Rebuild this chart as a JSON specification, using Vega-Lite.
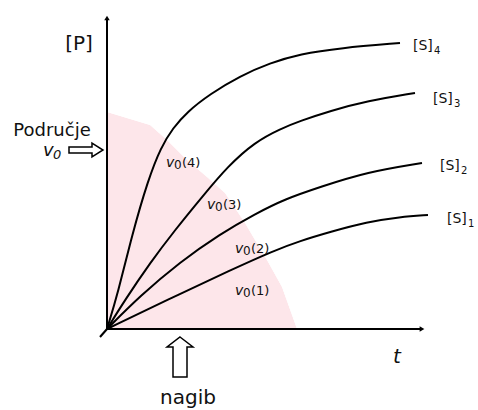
{
  "$schema": "https://vega.github.io/schema/vega-lite/v6.json",
  "width": 478,
  "height": 410,
  "padding": 0,
  "autosize": {"type": "fit", "contains": "padding"},
  "background": "white",
  "config": {"view": {"stroke": null}, "text": {"font": "DejaVu Sans", "color": "#111"}},
  "datasets": {
    "pink": [
      {"t": 0, "P": 217}, {"t": 43, "P": 204}, {"t": 60, "P": 189}, {"t": 80, "P": 169},
      {"t": 100, "P": 152}, {"t": 118, "P": 136}, {"t": 138, "P": 106}, {"t": 148, "P": 89},
      {"t": 160, "P": 69}, {"t": 175, "P": 42}, {"t": 190, "P": 0}
    ],
    "vgrid": [
      {"t": 1.6}, {"t": 10.7}, {"t": 19.7}, {"t": 28.8}, {"t": 37.9}, {"t": 47}, {"t": 56},
      {"t": 65.1}, {"t": 74.2}, {"t": 83.2}, {"t": 92.3}, {"t": 101.4}, {"t": 110.4}, {"t": 119.5},
      {"t": 128.6}, {"t": 137.7}, {"t": 146.7}, {"t": 155.8}, {"t": 164.9}, {"t": 173.9}, {"t": 183}
    ],
    "hgrid": [
      {"P": 6.3}, {"P": 15.4}, {"P": 24.5}, {"P": 33.7}, {"P": 42.8}, {"P": 51.9}, {"P": 61},
      {"P": 70.1}, {"P": 79.3}, {"P": 88.4}, {"P": 97.5}, {"P": 106.6}, {"P": 115.7}, {"P": 124.9},
      {"P": 134}, {"P": 143.1}, {"P": 152.2}, {"P": 161.3}, {"P": 170.5}, {"P": 179.6}, {"P": 188.7},
      {"P": 197.8}, {"P": 206.9}
    ],
    "axes": [
      {"name": "P", "t": 0, "P": 0, "t2": 0, "P2": 311},
      {"name": "t", "t": 0, "P": 0, "t2": 314, "P2": 0}
    ],
    "heads": [
      {"dir": "up", "t": 0, "P": 311},
      {"dir": "right", "t": 315, "P": 0}
    ],
    "curves": [
      {"s": "S4", "t": 0, "P": 0}, {"s": "S4", "t": 11, "P": 36}, {"s": "S4", "t": 25, "P": 94},
      {"s": "S4", "t": 41, "P": 149}, {"s": "S4", "t": 54, "P": 182}, {"s": "S4", "t": 66, "P": 201},
      {"s": "S4", "t": 80, "P": 217}, {"s": "S4", "t": 103, "P": 235}, {"s": "S4", "t": 133, "P": 253},
      {"s": "S4", "t": 163, "P": 266}, {"s": "S4", "t": 193, "P": 275}, {"s": "S4", "t": 233, "P": 281},
      {"s": "S4", "t": 293, "P": 286},
      {"s": "S3", "t": 0, "P": 0}, {"s": "S3", "t": 18, "P": 29}, {"s": "S3", "t": 43, "P": 66},
      {"s": "S3", "t": 68, "P": 99}, {"s": "S3", "t": 95, "P": 132}, {"s": "S3", "t": 121, "P": 163},
      {"s": "S3", "t": 148, "P": 187}, {"s": "S3", "t": 173, "P": 200}, {"s": "S3", "t": 193, "P": 208},
      {"s": "S3", "t": 223, "P": 218}, {"s": "S3", "t": 260, "P": 228}, {"s": "S3", "t": 308, "P": 236},
      {"s": "S2", "t": 0, "P": 0}, {"s": "S2", "t": 33, "P": 33}, {"s": "S2", "t": 73, "P": 67},
      {"s": "S2", "t": 113, "P": 95}, {"s": "S2", "t": 148, "P": 115}, {"s": "S2", "t": 178, "P": 130},
      {"s": "S2", "t": 213, "P": 142}, {"s": "S2", "t": 260, "P": 157}, {"s": "S2", "t": 315, "P": 166},
      {"s": "S1", "t": 0, "P": 0}, {"s": "S1", "t": 60, "P": 29}, {"s": "S1", "t": 126, "P": 60},
      {"s": "S1", "t": 166, "P": 78}, {"s": "S1", "t": 193, "P": 88}, {"s": "S1", "t": 223, "P": 97},
      {"s": "S1", "t": 260, "P": 107}, {"s": "S1", "t": 293, "P": 112}, {"s": "S1", "t": 321, "P": 114},
      {"s": "tail", "t": -7, "P": -8}, {"s": "tail", "t": 0, "P": 0}
    ],
    "arrows": [
      {"a": "left", "i": 0, "t": -38, "P": 182}, {"a": "left", "i": 1, "t": -15, "P": 182},
      {"a": "left", "i": 2, "t": -15, "P": 186}, {"a": "left", "i": 3, "t": -4, "P": 179},
      {"a": "left", "i": 4, "t": -15, "P": 172}, {"a": "left", "i": 5, "t": -15, "P": 176},
      {"a": "left", "i": 6, "t": -38, "P": 176},
      {"a": "up", "i": 0, "t": 73, "P": -8}, {"a": "up", "i": 1, "t": 86, "P": -18},
      {"a": "up", "i": 2, "t": 80, "P": -18}, {"a": "up", "i": 3, "t": 80, "P": -48},
      {"a": "up", "i": 4, "t": 66, "P": -48}, {"a": "up", "i": 5, "t": 66, "P": -18},
      {"a": "up", "i": 6, "t": 60, "P": -18}
    ],
    "vlabels": [
      {"n": "(4)", "t": 59, "P": 162},
      {"n": "(3)", "t": 100, "P": 120},
      {"n": "(2)", "t": 128, "P": 76},
      {"n": "(1)", "t": 128, "P": 34}
    ],
    "slabels": [
      {"n": "4", "t": 306, "P": 279},
      {"n": "3", "t": 326, "P": 226},
      {"n": "2", "t": 333, "P": 159},
      {"n": "1", "t": 340, "P": 106}
    ],
    "words": [
      {"w": "[P]", "role": "big", "t": -28, "P": 285},
      {"w": "Područje", "role": "mid", "t": -55, "P": 193},
      {"w": "nagib", "role": "low", "t": 81, "P": -75}
    ]
  },
  "encoding": {
    "x": {"field": "t", "type": "quantitative", "scale": {"domain": [-107, 371], "nice": false, "zero": false}, "axis": null},
    "y": {"field": "P", "type": "quantitative", "scale": {"domain": [-81, 329], "nice": false, "zero": false}, "axis": null}
  },
  "layer": [
    {
      "data": {"name": "pink"},
      "mark": {"type": "area", "color": "#fde6ea", "opacity": 1, "interpolate": "linear"},
      "encoding": {"y2": {"datum": 0}}
    },
    {
      "data": {"name": "vgrid"},
      "mark": {"type": "rule", "color": "#f9d0d7", "strokeWidth": 1},
      "encoding": {"y": {"datum": 0}, "y2": {"datum": 217}}
    },
    {
      "data": {"name": "hgrid"},
      "mark": {"type": "rule", "color": "#f9d0d7", "strokeWidth": 1},
      "encoding": {"x": {"datum": 0}, "x2": {"datum": 190}}
    },
    {
      "data": {"name": "pink"},
      "mark": {"type": "area", "color": "white", "opacity": 1, "interpolate": "linear"},
      "encoding": {"y2": {"datum": 220}}
    },
    {
      "data": {"name": "axes"},
      "mark": {"type": "rule", "color": "black", "strokeWidth": 2},
      "encoding": {"x2": {"field": "t2"}, "y2": {"field": "P2"}}
    },
    {
      "data": {"name": "heads"},
      "transform": [{"filter": "datum.dir === 'up'"}],
      "mark": {"type": "point", "shape": "triangle-up", "filled": true, "color": "black", "size": 30, "opacity": 1}
    },
    {
      "data": {"name": "heads"},
      "transform": [{"filter": "datum.dir === 'right'"}],
      "mark": {"type": "point", "shape": "triangle-right", "filled": true, "color": "black", "size": 30, "opacity": 1}
    },
    {
      "data": {"name": "curves"},
      "mark": {"type": "line", "color": "black", "strokeWidth": 2, "interpolate": "basis"},
      "encoding": {"detail": {"field": "s"}}
    },
    {
      "data": {"name": "arrows"},
      "mark": {"type": "line", "color": "black", "strokeWidth": 1.5, "interpolate": "linear-closed"},
      "encoding": {"detail": {"field": "a"}, "order": {"field": "i"}}
    },
    {
      "data": {"name": "words"},
      "transform": [{"filter": "datum.role === 'big'"}],
      "mark": {"type": "text", "fontSize": 20, "align": "center", "baseline": "middle"},
      "encoding": {"text": {"field": "w"}}
    },
    {
      "data": {"name": "words"},
      "transform": [{"filter": "datum.role === 'mid'"}],
      "mark": {"type": "text", "fontSize": 18, "align": "center", "baseline": "alphabetic"},
      "encoding": {"text": {"field": "w"}}
    },
    {
      "data": {"name": "words"},
      "transform": [{"filter": "datum.role === 'low'"}],
      "mark": {"type": "text", "fontSize": 20, "align": "center", "baseline": "alphabetic"},
      "encoding": {"text": {"field": "w"}}
    },
    {
      "data": {"values": [{"t": -64, "P": 173}]},
      "mark": {"type": "text", "text": "v", "fontSize": 18, "fontStyle": "italic", "align": "left", "baseline": "alphabetic"}
    },
    {
      "data": {"values": [{"t": -64, "P": 173}]},
      "mark": {"type": "text", "text": "0", "fontSize": 13, "fontStyle": "italic", "align": "left", "baseline": "alphabetic", "dx": 10, "dy": 3}
    },
    {
      "data": {"values": [{"t": 290, "P": -34}]},
      "mark": {"type": "text", "text": "t", "fontSize": 20, "fontStyle": "italic", "align": "center", "baseline": "alphabetic"}
    },
    {
      "data": {"name": "vlabels"},
      "mark": {"type": "text", "text": "v", "fontSize": 14, "fontStyle": "italic", "align": "left", "baseline": "alphabetic"}
    },
    {
      "data": {"name": "vlabels"},
      "mark": {"type": "text", "text": "0", "fontSize": 12, "align": "left", "baseline": "alphabetic", "dx": 8, "dy": 2}
    },
    {
      "data": {"name": "vlabels"},
      "mark": {"type": "text", "fontSize": 13, "align": "left", "baseline": "alphabetic", "dx": 16},
      "encoding": {"text": {"field": "n"}}
    },
    {
      "data": {"name": "slabels"},
      "mark": {"type": "text", "text": "[S]", "fontSize": 14, "align": "left", "baseline": "alphabetic"}
    },
    {
      "data": {"name": "slabels"},
      "mark": {"type": "text", "fontSize": 10, "align": "left", "baseline": "alphabetic", "dx": 21, "dy": 4},
      "encoding": {"text": {"field": "n"}}
    }
  ]
}
